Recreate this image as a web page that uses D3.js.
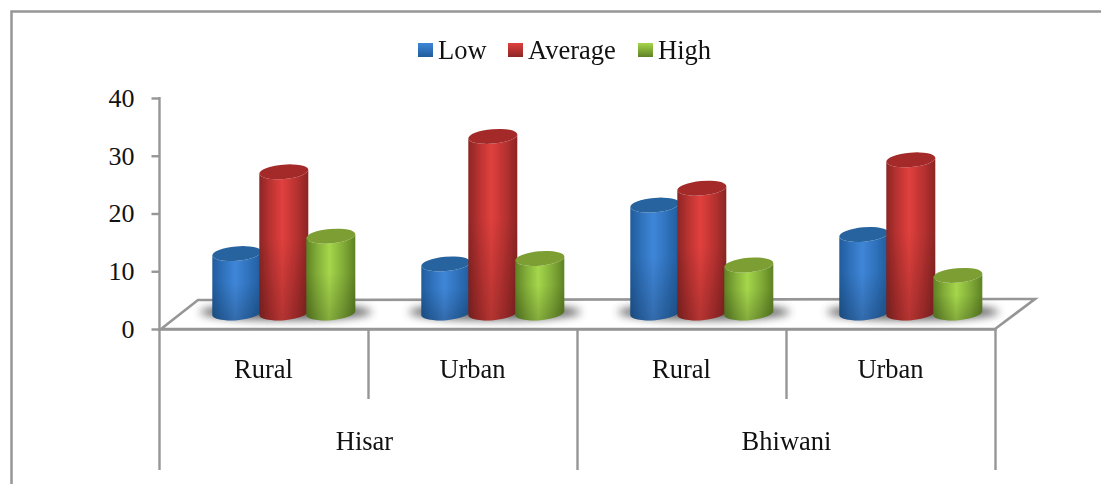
<!DOCTYPE html>
<html><head><meta charset="utf-8">
<script src="https://cdn.jsdelivr.net/npm/d3@7"></script>
<style>html,body{margin:0;padding:0;background:#fff}svg{display:block}text{font-family:"Liberation Serif",serif;fill:#111}</style>
</head><body><div id="c"></div>
<script>
const regions = ["Hisar", "Bhiwani"];
const categories = ["Rural", "Urban", "Rural", "Urban"];
const seriesNames = ["Low", "Average", "High"];
const low = [10.9, 9, 19.8, 14.4];
const average = [25.9, 32.4, 22.9, 28.1];
const high = [14.1, 10, 8.8, 6.9];
const yTicks = [0, 10, 20, 30, 40];
const edgeColors = ["#215c9c", "#8c2625", "#5e8224"];
const shoulderColors = ["#2f71bb", "#b93231", "#82ad38"];
const midColors = ["#3f86d8", "#e0403d", "#a5d64b"];
const capColors = ["#28649f", "#a42c2a", "#7b9e33"];
const legendX = [418, 508, 638];
const W = 1101, H = 484, grey = "#969696";
const seriesValues = [low, average, high];

const svg = d3.select("#c").append("svg").attr("width", W).attr("height", H);
const defs = svg.append("defs");
defs.append("filter").attr("id", "soft").attr("x", "-10%").attr("y", "-10%").attr("width", "120%").attr("height", "120%")
  .append("feGaussianBlur").attr("stdDeviation", 0.7);
const sh = defs.append("filter").attr("id", "shadow").attr("x", "-30%").attr("y", "-100%").attr("width", "160%").attr("height", "300%");
sh.append("feGaussianBlur").attr("stdDeviation", 4.5);
seriesNames.forEach((n, i) => {
  const g = defs.append("linearGradient").attr("id", "bar" + i);
  [[0, edgeColors[i]], [0.22, shoulderColors[i]], [0.47, midColors[i]], [0.75, shoulderColors[i]], [1, edgeColors[i]]]
    .forEach(s => g.append("stop").attr("offset", s[0]).attr("stop-color", s[1]));
  const l = defs.append("linearGradient").attr("id", "leg" + i).attr("x2", 0).attr("y2", 1);
  [[0, midColors[i]], [1, edgeColors[i]]].forEach(s => l.append("stop").attr("offset", s[0]).attr("stop-color", s[1]));
});
const dark = defs.append("linearGradient").attr("id", "dark").attr("x2", 0).attr("y2", 1);
dark.append("stop").attr("offset", 0.45).attr("stop-color", "#000").attr("stop-opacity", 0);
dark.append("stop").attr("offset", 1).attr("stop-color", "#000").attr("stop-opacity", 0.2);

// outer frame
svg.append("path").attr("d", `M11.5,${H} V11.5 H${W}`).attr("fill", "none").attr("stroke", grey).attr("stroke-width", 2.5);

// scales
const yAxisScale = d3.scaleLinear().domain([0, 40]).range([329, 98]);
const yBarScale = d3.scaleLinear().domain([0, 40]).range([313, 95]);
const x0 = d3.scaleBand().domain(d3.range(categories.length)).range([159.5, 995.5]);
const xSeries = d3.scaleBand().domain(d3.range(seriesNames.length)).range([-70.5, 70.5]);
const depthDx = 19.8, rx = 24.6, ry = 7.2, tilt = -5;

// floor
const fl = [[161, 329], [198, 300], [1035, 299], [995, 329]];
svg.append("polygon").attr("points", fl.join(" ")).attr("fill", "#fff").attr("stroke", grey).attr("stroke-width", 2.6).attr("stroke-linejoin", "miter");

// y axis
const yAxis = d3.axisLeft(yAxisScale).tickValues(yTicks).tickSize(8).tickPadding(17);
const ya = svg.append("g").attr("transform", "translate(159.5,0)").call(yAxis);
ya.select(".domain").remove();
ya.selectAll("line").attr("stroke", grey).attr("stroke-width", 2.4);
ya.selectAll("text").attr("font-size", 26).attr("fill", "#111").style("font-family", '"Liberation Serif",serif');
svg.append("line").attr("x1", 159.5).attr("x2", 159.5).attr("y1", 97).attr("y2", 470).attr("stroke", grey).attr("stroke-width", 2.4);

// x dividers
[1, 2, 3, 4].forEach(i => {
  const x = i < 4 ? x0(i) : x0.range()[1];
  svg.append("line").attr("x1", x).attr("x2", x).attr("y1", 329).attr("y2", i % 2 ? 399 : 470).attr("stroke", grey).attr("stroke-width", 2.4);
});
svg.append("line").attr("x1", 158).attr("x2", 996.5).attr("y1", 329.5).attr("y2", 329.5).attr("stroke", grey).attr("stroke-width", 2.6);

// shadows
categories.forEach((c, ci) => {
  const cx = x0(ci) + x0.bandwidth() / 2 + depthDx;
  svg.append("ellipse").attr("cx", cx + 2).attr("cy", 312).attr("rx", 86).attr("ry", 8).attr("fill", "#4a4a4a").attr("opacity", 0.85).attr("filter", "url(#shadow)");
});

// cylinders
const marks = svg.append("g").attr("filter", "url(#soft)");
categories.forEach((c, ci) => {
  seriesNames.forEach((n, si) => {
    const cx = x0(ci) + x0.bandwidth() / 2 + depthDx + xSeries(si) + xSeries.bandwidth() / 2;
    const yb = yBarScale(0), yt = yBarScale(seriesValues[si][ci]);
    const dy = rx * Math.sin(tilt * Math.PI / 180), dx = rx * Math.cos(tilt * Math.PI / 180);
    const body = `M${cx - dx},${yt - dy} L${cx - dx},${yb - dy} A${rx},${ry} ${tilt} 0 0 ${cx + dx},${yb + dy} L${cx + dx},${yt + dy} A${rx},${ry} ${tilt} 0 1 ${cx - dx},${yt - dy} Z`;
    marks.append("path").attr("d", body).attr("fill", `url(#bar${si})`);
    marks.append("path").attr("d", body).attr("fill", "url(#dark)");
    marks.append("ellipse").attr("cx", cx).attr("cy", yt).attr("rx", rx).attr("ry", ry)
      .attr("transform", `rotate(${tilt} ${cx} ${yt})`).attr("fill", capColors[si]);
  });
});

// category labels
categories.forEach((c, i) => {
  svg.append("text").attr("x", x0(i) + x0.bandwidth() / 2 - 0.5).attr("y", 378).attr("text-anchor", "middle").attr("font-size", 26.5).text(c);
});
regions.forEach((r, i) => {
  svg.append("text").attr("x", x0(i * 2) + x0.bandwidth() - (i ? 0 : 4)).attr("y", 450).attr("text-anchor", "middle").attr("font-size", 26.5).text(r);
});

// legend
seriesNames.forEach((n, i) => {
  svg.append("rect").attr("x", legendX[i]).attr("y", 43).attr("width", 15).attr("height", 14).attr("fill", `url(#leg${i})`);
  svg.append("text").attr("x", legendX[i] + 20).attr("y", 58.5).attr("font-size", 26.5).text(n);
});
</script></body></html>
